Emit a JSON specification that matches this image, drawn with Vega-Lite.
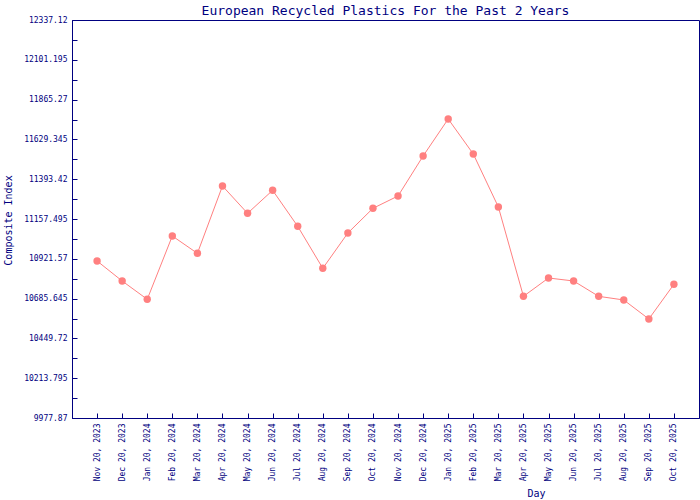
{
  "$schema": "https://vega.github.io/schema/vega-lite/v6.json",
  "width": 627,
  "height": 398,
  "autosize": {"type": "none"},
  "padding": {"left": 72, "top": 20, "right": 1, "bottom": 82},
  "background": "white",
  "title": {
    "text": "European Recycled Plastics For the Past 2 Years",
    "font": "DejaVu Sans Mono",
    "fontSize": 13,
    "fontWeight": "normal",
    "color": "#000080",
    "anchor": "middle",
    "offset": -2
  },
  "config": {
    "view": {"stroke": "#000080", "strokeWidth": 1},
    "axis": {
      "domainColor": "#000080",
      "tickColor": "#000080",
      "labelColor": "#000080",
      "titleColor": "#000080",
      "labelFont": "DejaVu Sans Mono",
      "titleFont": "DejaVu Sans Mono",
      "labelFontSize": 8,
      "titleFontSize": 10,
      "titleFontWeight": "normal",
      "grid": false
    }
  },
  "data": {
    "values": [
      {"day": "Nov 20, 2023", "value": 10908.6},
      {"day": "Dec 20, 2023", "value": 10790.0},
      {"day": "Jan 20, 2024", "value": 10681.5},
      {"day": "Feb 20, 2024", "value": 11056.8},
      {"day": "Mar 20, 2024", "value": 10954.0},
      {"day": "Apr 20, 2024", "value": 11353.2},
      {"day": "May 20, 2024", "value": 11191.2},
      {"day": "Jun 20, 2024", "value": 11327.5},
      {"day": "Jul 20, 2024", "value": 11114.1},
      {"day": "Aug 20, 2024", "value": 10865.1},
      {"day": "Sep 20, 2024", "value": 11074.6},
      {"day": "Oct 20, 2024", "value": 11220.8},
      {"day": "Nov 20, 2024", "value": 11293.9},
      {"day": "Dec 20, 2024", "value": 11531.0},
      {"day": "Jan 20, 2025", "value": 11750.4},
      {"day": "Feb 20, 2025", "value": 11542.9},
      {"day": "Mar 20, 2025", "value": 11228.7},
      {"day": "Apr 20, 2025", "value": 10699.1},
      {"day": "May 20, 2025", "value": 10807.8},
      {"day": "Jun 20, 2025", "value": 10790.0},
      {"day": "Jul 20, 2025", "value": 10699.1},
      {"day": "Aug 20, 2025", "value": 10677.4},
      {"day": "Sep 20, 2025", "value": 10564.8},
      {"day": "Oct 20, 2025", "value": 10770.3}
    ]
  },
  "encoding": {
    "x": {
      "field": "day",
      "type": "ordinal",
      "sort": null,
      "scale": {"type": "point", "padding": 1},
      "axis": {
        "title": "Day",
        "labelAngle": -90,
        "labelAlign": "right",
        "labelBaseline": "middle",
        "tickSize": -5,
        "labelPadding": 10,
        "titleX": 464,
        "titleY": 75,
        "titleBaseline": "middle",
        "titleAlign": "center"
      }
    },
    "y": {
      "field": "value",
      "type": "quantitative",
      "scale": {"domain": [9977.87, 12337.12], "nice": false, "zero": false},
      "axis": {
        "title": "Composite Index",
        "values": [9977.87, 10095.8325, 10213.795, 10331.7575, 10449.72, 10567.6825, 10685.645, 10803.6075, 10921.57, 11039.5325, 11157.495, 11275.4575, 11393.42, 11511.3825, 11629.345, 11747.3075, 11865.27, 11983.2325, 12101.195, 12219.1575, 12337.12],
        "labelExpr": "(round((datum.value - 9977.87) / 117.9625) % 2 == 0) ? ('' + round(datum.value * 1000) / 1000) : ''",
        "tickSize": -5,
        "labelPadding": 10,
        "labelFlush": false,
        "labelOverlap": false,
        "titleX": -64,
        "titleY": 200,
        "titleAngle": -90,
        "titleBaseline": "middle",
        "titleAlign": "center"
      }
    }
  },
  "layer": [
    {"mark": {"type": "line", "color": "#ff8080", "strokeWidth": 1}},
    {"mark": {"type": "point", "shape": "circle", "filled": true, "color": "#ff8080", "opacity": 1, "size": 55}}
  ]
}
